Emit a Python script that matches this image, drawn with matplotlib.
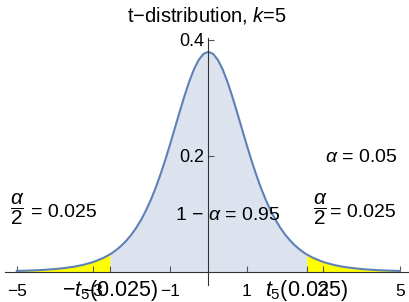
import matplotlib
matplotlib.use("Agg")
import matplotlib.pyplot as plt
import numpy as np

## 图中读出的t分布(k=5)密度曲线点
t_vals = [-5.0, -4.75, -4.5, -4.25, -4.0, -3.75, -3.5, -3.25, -3.0, -2.75,
          -2.571, -2.5, -2.375, -2.25, -2.125, -2.0, -1.875, -1.75, -1.625, -1.5,
          -1.375, -1.25, -1.125, -1.0, -0.875, -0.75, -0.625, -0.5, -0.375, -0.25,
          -0.125, 0.0, 0.125, 0.25, 0.375, 0.5, 0.625, 0.75, 0.875, 1.0,
          1.125, 1.25, 1.375, 1.5, 1.625, 1.75, 1.875, 2.0, 2.125, 2.25,
          2.375, 2.5, 2.571, 2.75, 3.0, 3.25, 3.5, 3.75, 4.0, 4.25,
          4.5, 4.75, 5.0]
density = [0.0018, 0.0023, 0.0029, 0.0039, 0.0051, 0.0069, 0.0092, 0.0126, 0.0173, 0.0239,
           0.0303, 0.0333, 0.0394, 0.0466, 0.0551, 0.0651, 0.0768, 0.0905, 0.1064, 0.1245,
           0.1450, 0.1679, 0.1929, 0.2197, 0.2476, 0.2757, 0.3029, 0.3279, 0.3493, 0.3657,
           0.3761, 0.3796, 0.3761, 0.3657, 0.3493, 0.3279, 0.3029, 0.2757, 0.2476, 0.2197,
           0.1929, 0.1679, 0.1450, 0.1245, 0.1064, 0.0905, 0.0768, 0.0651, 0.0551, 0.0466,
           0.0394, 0.0333, 0.0303, 0.0239, 0.0173, 0.0126, 0.0092, 0.0069, 0.0051, 0.0039,
           0.0029, 0.0023, 0.0018]

t_crit = 2.571
x_ticks = [-5, -3, -t_crit, -1, 1, t_crit, 3, 5]
x_labels = ["\u22125", "\u22123", "\u2212$t_5$(0.025)", "\u22121", "1", "$t_5$(0.025)", "3", "5"]
y_ticks = [0.2, 0.4]
y_labels = ["0.2", "0.4"]

plt.rcParams["font.family"] = ["Liberation Sans", "DejaVu Sans"]
plt.rcParams["mathtext.fontset"] = "custom"
plt.rcParams["mathtext.rm"] = "Liberation Sans"
plt.rcParams["mathtext.it"] = "Liberation Sans:italic"

fig = plt.figure(figsize=(4.10, 3.02), dpi=100)
ax = fig.add_axes([5/410, 17/302, 403/410, 247/302])

x = np.array(t_vals)
y = np.array(density)
tail = np.abs(x) >= t_crit - 1e-9
mid = np.abs(x) <= t_crit + 1e-9

ax.fill_between(x, 0, y, where=mid, color="#dce3ef", lw=0)
ax.fill_between(x, 0, y, where=tail & (x < 0), color="#ffff00", lw=0)
ax.fill_between(x, 0, y, where=tail & (x > 0), color="#ffff00", lw=0)
ax.plot(x, y, color="#5e81b5", lw=1.5)

ax.set_xlim(-5.308, 5.214)
ax.set_ylim(-0.0224, 0.4034)

for s in ["top", "right"]:
    ax.spines[s].set_visible(False)
ax.spines["left"].set_position(("data", 0))
ax.spines["bottom"].set_position(("data", 0))
ax.spines["left"].set_color("#333333")
ax.spines["bottom"].set_color("#333333")
ax.patch.set_visible(False)

ax.set_xticks(x_ticks, x_labels)
ax.set_yticks(y_ticks, y_labels)
ax.tick_params(direction="in", length=4, width=0.8, color="#555555", labelsize=12.5)
ax.tick_params(axis="x", pad=17)
ax.tick_params(axis="y", pad=3, labelsize=13)
for lab in ax.get_xticklabels():
    lab.set_verticalalignment("baseline")
    if "t_5" in lab.get_text():
        lab.set_fontsize(15.5)

## 标注文字
ax.text(4.0, 0.197, r"$\alpha$ = 0.05", fontsize=14, ha="center", va="center")
ax.text(-4.98, 0.109, r"$\dfrac{\alpha}{2}$", fontsize=15, ha="center", va="center")
ax.text(-4.62, 0.103, "= 0.025", fontsize=14, ha="left", va="center")
ax.text(2.91, 0.109, r"$\dfrac{\alpha}{2}$", fontsize=15, ha="center", va="center")
ax.text(3.17, 0.103, "= 0.025", fontsize=14, ha="left", va="center")
ax.text(0.50, 0.098, r"1 $-$ $\alpha$ = 0.95", fontsize=14, ha="center", va="center")

fig.text(0.505, 1 - 15/302, "t\u2212distribution, $k$=5", fontsize=14.5,
         ha="center", va="center")

plt.savefig("out.png", dpi=100)
